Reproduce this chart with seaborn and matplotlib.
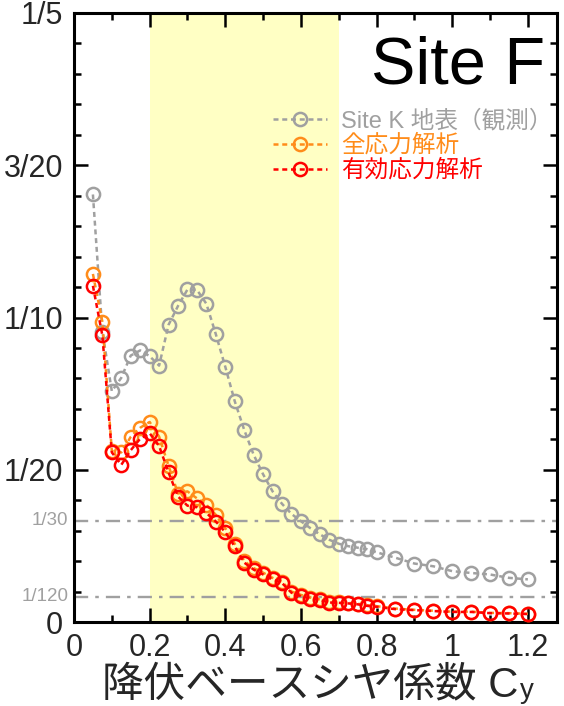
import numpy as np
import pandas as pd
import matplotlib
matplotlib.use("Agg")
import matplotlib.pyplot as plt
import seaborn as sns
from matplotlib.ticker import FixedLocator, MultipleLocator
import matplotlib.transforms as mtransforms

# ---------------- data ----------------
cy = [0.05, 0.075, 0.1, 0.125, 0.15, 0.175, 0.2, 0.225, 0.25, 0.275, 0.3, 0.325,
      0.35, 0.375, 0.4, 0.425, 0.45, 0.475, 0.5, 0.525, 0.55, 0.575, 0.6, 0.625,
      0.65, 0.675, 0.7, 0.725, 0.75, 0.775, 0.8, 0.85, 0.9, 0.95, 1.0, 1.05, 1.1,
      1.15, 1.2]
site_k = [0.1404, 0.0954, 0.0758, 0.0802, 0.0875, 0.0892, 0.0873, 0.0842, 0.0976,
          0.1038, 0.1092, 0.1091, 0.1045, 0.0945, 0.0838, 0.0725, 0.0631, 0.0549,
          0.0485, 0.0429, 0.0388, 0.0355, 0.0331, 0.0308, 0.0288, 0.0270, 0.0257,
          0.0249, 0.0244, 0.0239, 0.0229, 0.0211, 0.0192, 0.0183, 0.0167, 0.0161,
          0.0156, 0.0145, 0.0140]
total_stress = [0.1143, 0.0986, 0.0562, 0.0557, 0.0608, 0.0638, 0.0657, 0.0609, 0.0513,
                0.0422, 0.0429, 0.0406, 0.0385, 0.0352, 0.0308, 0.0257, 0.0200, 0.0177,
                0.0162, 0.0145, 0.0132, 0.0100, 0.0089, 0.0080, 0.0074, 0.0066, 0.0065,
                0.0063, 0.0060, 0.0055, 0.0052, 0.0044, 0.0040, 0.0037, 0.0034, 0.0034,
                0.0030, 0.0029, 0.0027]
effective_stress = [0.1104, 0.0941, 0.0557, 0.0516, 0.0564, 0.0602, 0.0620, 0.0578, 0.0491,
                    0.0412, 0.0382, 0.0377, 0.0358, 0.0330, 0.0295, 0.0248, 0.0195, 0.0172,
                    0.0156, 0.0140, 0.0128, 0.0096, 0.0085, 0.0077, 0.0072, 0.0064, 0.0063,
                    0.0061, 0.0058, 0.0053, 0.0050, 0.0042, 0.0039, 0.0036, 0.0033, 0.0033,
                    0.0029, 0.0028, 0.0026]
series_labels = ["Site K 地表（観測）", "全応力解析", "有効応力解析"]
series_colors = ["#A0A0A0", "#FF8C1A", "#FF0000"]

xtick_vals = [0, 0.2, 0.4, 0.6, 0.8, 1.0, 1.2]
xtick_labels = ["0", "0.2", "0.4", "0.6", "0.8", "1", "1.2"]
ytick_vals = [0, 0.05, 0.1, 0.15, 0.2]
ytick_labels = ["0", "1/20", "1/10", "3/20", "1/5"]
ref_vals = [1 / 30, 1 / 120]
ref_labels = ["1/30", "1/120"]
band = (0.2, 0.7)
title = "Site F"
xlabel_main = "降伏ベースシヤ係数 C"
xlabel_sub = "y"

# ---------------- style ----------------
sns.set_theme(style="ticks")
FAM = ["Liberation Sans", "Noto Sans CJK JP", "DejaVu Sans"]
plt.rcParams["font.family"] = FAM

fig = plt.figure(figsize=(5.64, 7.06), dpi=100)
ax = fig.add_axes([74 / 564, 1 - 622 / 706, (557 - 74) / 564, (622 - 13) / 706])

ax.axvspan(band[0], band[1], color="#FFFFC4", zorder=0, lw=0)
for v in ref_vals:
    ax.axhline(v, color="#A0A0A0", lw=1.7, ls=(0, (6, 3, 1.5, 3)), zorder=1)

dash = (0, (2.0, 1.5))
for vals, lab, col in zip([site_k, total_stress, effective_stress], series_labels, series_colors):
    df = pd.DataFrame({"Cy": cy, "v": vals})
    sns.lineplot(data=df, x="Cy", y="v", ax=ax, color=col, lw=1.8, linestyle=dash,
                 marker="o", markersize=9.5, markerfacecolor="none",
                 markeredgecolor=col, markeredgewidth=1.8, label=lab, zorder=3)

ax.set_xlim(0, 1.277)
ax.set_ylim(0, 0.2)
ax.xaxis.set_major_locator(FixedLocator(xtick_vals))
ax.set_xticklabels(xtick_labels)
ax.xaxis.set_minor_locator(MultipleLocator(0.1))
ax.yaxis.set_major_locator(FixedLocator(ytick_vals))
ax.set_yticklabels(ytick_labels)
ax.yaxis.set_minor_locator(MultipleLocator(0.01))
ax.tick_params(which="both", direction="in", top=True, right=True, color="black", width=1.8)
ax.tick_params(which="major", length=10, labelsize=22, pad=8)
ax.tick_params(which="minor", length=5)
for s in ax.spines.values():
    s.set_linewidth(2.2)
    s.set_color("black")
ax.set_xlabel("")
ax.set_ylabel("")

# reference labels
trans = mtransforms.blended_transform_factory(ax.transAxes, ax.transData)
for v, t in zip(ref_vals, ref_labels):
    ax.text(-0.012, v, t, transform=trans, ha="right", va="center",
            fontsize=13.5, color="#A0A0A0", family=FAM)

# title
ax.text(0.975, 0.884, title, transform=ax.transAxes, ha="right", va="baseline",
        fontsize=48, color="black", family=FAM)

# legend
leg = ax.legend(loc="upper left", bbox_to_anchor=(0.412, 0.842), frameon=False,
                handlelength=2.3, handletextpad=0.6, labelspacing=0.1,
                borderpad=0, borderaxespad=0, prop={"family": FAM, "size": 17})
for txt, col in zip(leg.get_texts(), series_colors):
    txt.set_color(col)

# x label with subscript
lab = fig.text(102 / 564, 1 - 685 / 706, xlabel_main, ha="left", va="center",
               fontsize=30, family=FAM)
fig.canvas.draw()
bb = lab.get_window_extent()
fig.text(bb.x1 / fig.bbox.width + 0.002, (bb.y0 + 1) / fig.bbox.height, xlabel_sub,
         ha="left", va="bottom", fontsize=20, family=FAM)

fig.savefig("out.png", dpi=100)
